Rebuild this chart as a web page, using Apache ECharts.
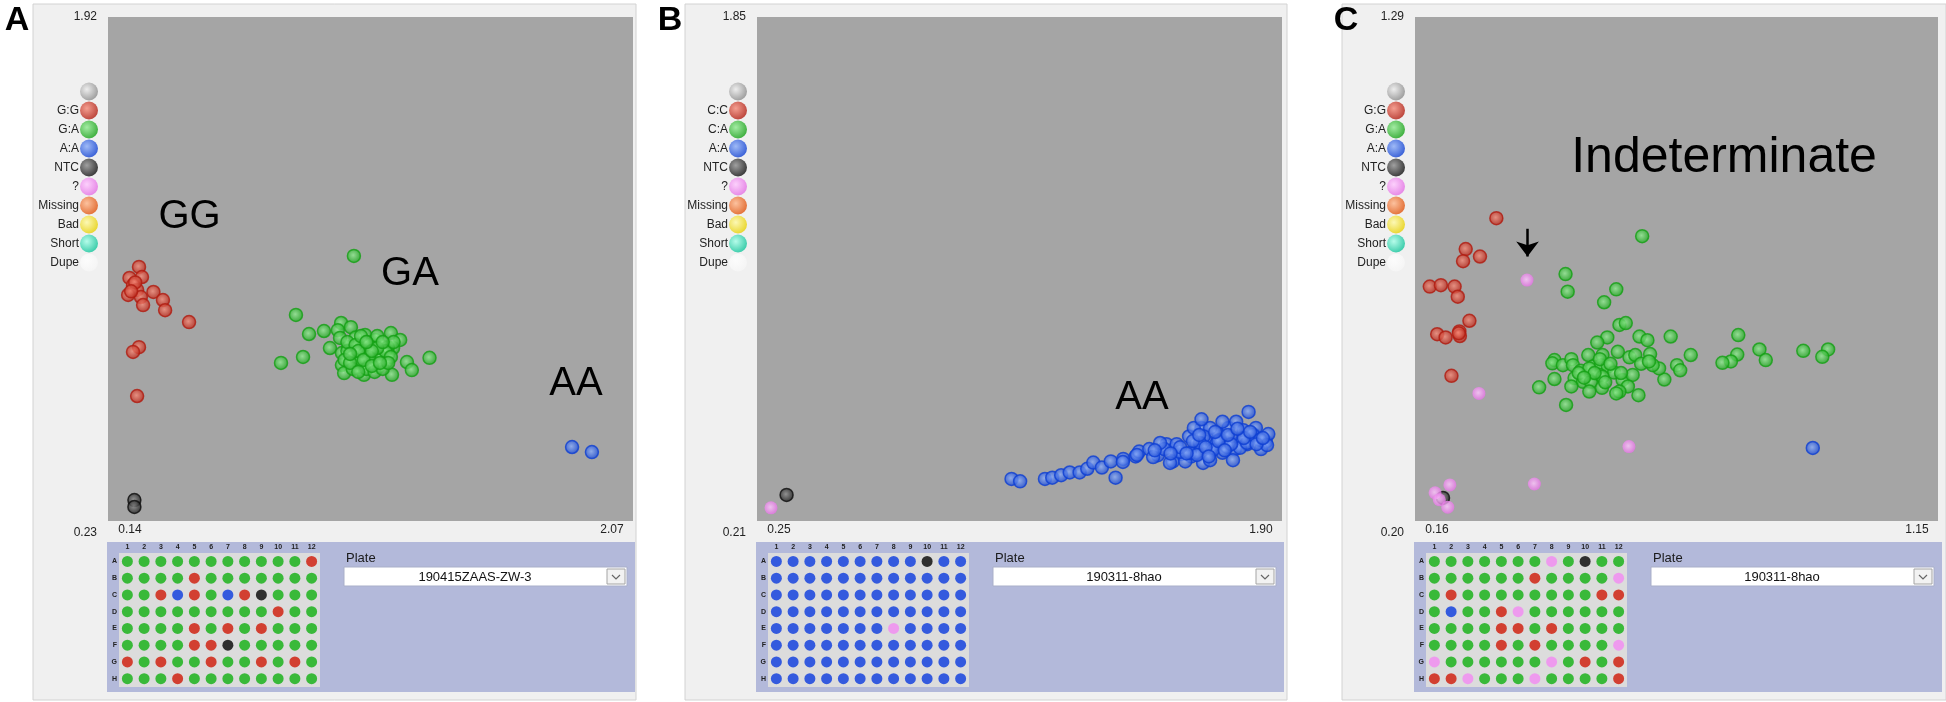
<!DOCTYPE html>
<html>
<head>
<meta charset="utf-8">
<title>Genotyping plots</title>
<script src="https://cdn.jsdelivr.net/npm/echarts@6.0.0/dist/echarts.min.js"></script>
<style>
  html, body { margin: 0; padding: 0; background: #fff; }
  #main { width: 1946px; height: 702px; }
</style>
</head>
<body>
<div id="main"></div>
<script>
// ---- axis ranges (only min / max are labelled) ----
var xRangeA = [0.14, 2.07], yRangeA = [0.23, 1.92];
var xRangeB = [0.25, 1.90], yRangeB = [0.21, 1.85];
var xRangeC = [0.16, 1.15], yRangeC = [0.20, 1.29];

// ---- legend entries ----
var legendA = ['', 'G:G', 'G:A', 'A:A', 'NTC', '?', 'Missing', 'Bad', 'Short', 'Dupe'];
var legendB = ['', 'C:C', 'C:A', 'A:A', 'NTC', '?', 'Missing', 'Bad', 'Short', 'Dupe'];
var legendC = ['', 'G:G', 'G:A', 'A:A', 'NTC', '?', 'Missing', 'Bad', 'Short', 'Dupe'];
var legendBalls = ['gray', 'red', 'green', 'blue', 'black', 'pink', 'orange', 'yellow', 'teal', 'white'];

// ---- panel A points ----
var A_GG = [[0.254,1.082],[0.219,1.045],[0.265,1.048],[0.232,1.021],[0.247,1.005],[0.214,0.988],
  [0.261,0.981],[0.307,0.998],[0.269,0.954],[0.342,0.971],[0.350,0.937],[0.438,0.897],
  [0.254,0.813],[0.232,0.797],[0.247,0.649],[0.240,1.030],[0.225,1.000]];
var A_GA = [[1.044,1.119],[0.831,0.921],[0.879,0.857],[0.934,0.867],[0.997,0.894],[1.033,0.880],
  [0.985,0.870],[0.993,0.844],[1.085,0.854],[1.123,0.837],[1.180,0.860],[1.214,0.837],[1.188,0.810],
  [0.956,0.810],[0.857,0.780],[0.776,0.760],[1.000,0.793],[1.055,0.803],[1.100,0.787],[1.147,0.793],
  [1.162,0.763],[1.133,0.746],[1.085,0.760],[1.041,0.770],[1.000,0.753],[1.008,0.726],[1.081,0.720],
  [1.184,0.720],[1.239,0.763],[1.257,0.736],[1.322,0.777],[1.070,0.827],[1.107,0.813],[1.140,0.820],
  [1.169,0.813],[1.114,0.770],[1.055,0.746],[1.024,0.813],[1.120,0.790],[1.070,0.780],[1.170,0.790],
  [1.050,0.845],[1.090,0.830],[1.020,0.800],[1.040,0.780],[1.060,0.760],[1.080,0.800],[1.100,0.820],
  [1.120,0.760],[1.140,0.780],[1.160,0.800],[1.020,0.830],[1.050,0.820],[1.090,0.740],[1.120,0.730],
  [1.150,0.740],[1.180,0.780],[1.190,0.830],[1.070,0.850],[1.130,0.850],[1.010,0.770],[1.040,0.740],
  [1.100,0.780],[1.130,0.810],[1.170,0.760],[1.060,0.800],[1.080,0.770],[1.110,0.800],[1.150,0.830],
  [1.030,0.760],[1.090,0.830],[1.060,0.730],[1.110,0.750],[1.140,0.760],[1.030,0.790]];
var A_AA = [[1.846,0.478],[1.919,0.461]];
var A_NTC = [[0.237,0.300],[0.237,0.277]];

// ---- panel B points ----
var B_AA = [[1.050,0.347],[1.077,0.339],[1.155,0.347],[1.178,0.351],[1.206,0.359],[1.233,0.368],
  [1.264,0.368],[1.288,0.380],[1.307,0.400],[1.334,0.384],[1.377,0.351],[1.362,0.404],[1.401,0.412],
  [1.440,0.420],[1.451,0.436],[1.483,0.444],[1.510,0.424],[1.537,0.460],[1.561,0.444],[1.584,0.428],
  [1.608,0.485],[1.631,0.460],[1.647,0.513],[1.662,0.468],[1.678,0.444],[1.701,0.493],[1.717,0.468],
  [1.732,0.513],[1.756,0.533],[1.771,0.468],[1.795,0.565],[1.810,0.493],[1.830,0.477],[1.849,0.468],
  [1.857,0.493],[1.615,0.420],[1.557,0.404],[1.713,0.432],[1.752,0.444],[1.791,0.460],[1.818,0.513],
  [1.674,0.513],[1.713,0.533],[1.635,0.432],[1.596,0.404],[1.654,0.485],[1.693,0.460],[1.740,0.485],
  [1.779,0.505],[1.834,0.444],[1.569,0.460],[1.530,0.444],[1.623,0.513],[1.647,0.541],
  [1.517,0.464],[1.444,0.425],[1.495,0.418],[1.400,0.402],[1.548,0.399],[1.579,0.435],[1.611,0.431],
  [1.642,0.464],[1.652,0.399],[1.683,0.441],[1.705,0.474],[1.727,0.451],[1.746,0.408],[1.768,0.448],
  [1.790,0.464],[1.809,0.490],[1.831,0.474],[1.853,0.457],[1.674,0.408],[1.633,0.425],
  [1.580,0.450],[1.620,0.470],[1.660,0.450],[1.700,0.470],[1.740,0.460],[1.780,0.480],[1.820,0.460],
  [1.640,0.490],[1.690,0.500],[1.730,0.490],[1.760,0.510],[1.800,0.500],[1.600,0.430],[1.670,0.420],
  [1.720,0.440],[1.840,0.480],[1.550,0.430],[1.500,0.440]];
var B_NTC = [[0.343,0.295]];
var B_UNK = [[0.294,0.253]];

// ---- panel C points ----
var C_GG = [[0.314,0.855],[0.256,0.788],[0.283,0.772],[0.251,0.762],[0.188,0.707],[0.209,0.710],
  [0.235,0.707],[0.241,0.685],[0.263,0.633],[0.202,0.604],[0.218,0.597],[0.244,0.610],[0.245,0.600],
  [0.229,0.514],[0.243,0.606]];
var C_GA = [[0.590,0.816],[0.445,0.734],[0.449,0.696],[0.541,0.701],[0.518,0.673],[0.547,0.624],
  [0.559,0.628],[0.585,0.599],[0.600,0.591],[0.644,0.599],[0.524,0.597],[0.505,0.586],[0.544,0.566],
  [0.488,0.559],[0.515,0.559],[0.566,0.554],[0.577,0.559],[0.605,0.561],[0.682,0.559],[0.772,0.602],
  [0.770,0.560],[0.758,0.545],[0.742,0.542],[0.812,0.571],[0.824,0.548],[0.895,0.568],[0.942,0.571],
  [0.931,0.555],[0.424,0.548],[0.420,0.541],[0.440,0.537],[0.456,0.550],[0.459,0.537],[0.474,0.525],
  [0.497,0.534],[0.512,0.537],[0.525,0.534],[0.537,0.521],[0.493,0.519],[0.509,0.516],[0.462,0.509],
  [0.478,0.501],[0.493,0.501],[0.515,0.512],[0.553,0.505],[0.572,0.516],[0.563,0.491],[0.547,0.480],
  [0.541,0.476],[0.514,0.488],[0.490,0.480],[0.456,0.491],[0.424,0.507],[0.395,0.489],[0.446,0.451],
  [0.583,0.472],[0.632,0.506],[0.622,0.530],[0.610,0.537],[0.588,0.540],[0.656,0.537],[0.662,0.526],
  [0.603,0.545],[0.490,0.530],[0.500,0.520],[0.470,0.520],[0.510,0.550],[0.530,0.540],[0.480,0.510],
  [0.520,0.500],[0.550,0.520]];
var C_AA = [[0.913,0.358]];
var C_NTC = [[0.213,0.250]];
var C_UNK = [[0.372,0.721],[0.281,0.476],[0.565,0.361],[0.386,0.280],[0.226,0.278],[0.198,0.261],
  [0.222,0.230],[0.206,0.246]];

// ---- text annotations and arrow (data coordinates) ----
var annotA = [['GG', 0.44, 1.25], ['GA', 1.25, 1.06], ['AA', 1.86, 0.69]];
var annotB = [['AA', 1.46, 0.61]];
var annotC = [['Indeterminate', 0.745, 0.985]];
var arrowC = [0.373, 0.832, 0.772];

// ---- 96-well plates: g=G:A/green r=red b=blue k=NTC p=? ----
var plateCols = ['1','2','3','4','5','6','7','8','9','10','11','12'];
var plateRows = ['A','B','C','D','E','F','G','H'];
var plateA = ['gggggggggggr','ggggrggggggg','ggrbrgbrkggg','gggggggggrgg',
              'ggggrgrgrggg','ggggrrkggggg','rgrggrggrgrg','gggrgggggggg'];
var plateB = ['bbbbbbbbbkbb','bbbbbbbbbbbb','bbbbbbbbbbbb','bbbbbbbbbbbb',
              'bbbbbbbpbbbb','bbbbbbbbbbbb','bbbbbbbbbbbb','bbbbbbbbbbbb'];
var plateC = ['gggggggpgkgg','ggggggrggggp','grggggggggrr','gbggrpgggggg',
              'ggggrrgrgggg','ggggrgrggggp','pggggggpgrgr','rrpgggpggggr'];
var plateNames = ['190415ZAAS-ZW-3', '190311-8hao', '190311-8hao'];

// ---- styles ----
var font = 'Liberation Sans, Arial, sans-serif';
var balls = {
  gray:   ['#8a8a8a', '#ececec'],
  red:    ['#b01c10', '#f58a78'],
  green:  ['#14a014', '#8fea8f'],
  blue:   ['#0e3fd2', '#8aacf8'],
  black:  ['#0e0e0e', '#8c8c8c'],
  pink:   ['#e46ee4', '#ffc8ff'],
  orange: ['#e0520c', '#ffb68a'],
  yellow: ['#e8d000', '#fffaa6'],
  teal:   ['#10c49a', '#a6ffe8'],
  white:  ['#f6f6f6', '#ffffff']
};
var wellColors = { g: '#10b010', r: '#d01806', b: '#0a3ade', k: '#040404', p: '#f38af3' };

function ball(k, c, r) {
  return new echarts.graphic.RadialGradient(c, c, r, [
    { offset: 0, color: balls[k][1] },
    { offset: 1, color: balls[k][0] }
  ]);
}
function dotStyle(k) {
  return { color: ball(k, 0.45, 0.6), borderColor: balls[k][0], borderWidth: k === 'pink' ? 0 : 1.5 };
}

var panels = [
  { xr: xRangeA, yr: yRangeA, legend: legendA, plate: plateA, annot: annotA, annotSize: 40,
    series: [['G:G', A_GG, 'red'], ['G:A', A_GA, 'green'], ['A:A', A_AA, 'blue'], ['NTC', A_NTC, 'black']] },
  { xr: xRangeB, yr: yRangeB, legend: legendB, plate: plateB, annot: annotB, annotSize: 40,
    series: [['A:A', B_AA, 'blue'], ['NTC', B_NTC, 'black'], ['?', B_UNK, 'pink']] },
  { xr: xRangeC, yr: yRangeC, legend: legendC, plate: plateC, annot: annotC, annotSize: 50,
    series: [['G:G', C_GG, 'red'], ['G:A', C_GA, 'green'], ['A:A', C_AA, 'blue'], ['NTC', C_NTC, 'black'], ['?', C_UNK, 'pink']] }
];

// pixel layout of each panel
var layout = [
  { L: 108,  W: 525, frame: [33, 603],   letter: ['A', 17] },
  { L: 757,  W: 525, frame: [685, 602],  letter: ['B', 670] },
  { L: 1415, W: 523, frame: [1342, 604], letter: ['C', 1346] }
];

function near(a, b) { return Math.abs(a - b) < 1e-6; }

function valueAxis(gi, range, isX) {
  var rich = isX
    ? { lo: { padding: [0, 0, 0, 44], fontSize: 12, color: '#222', fontFamily: font },
        hi: { padding: [0, 42, 0, 0], fontSize: 12, color: '#222', fontFamily: font } }
    : { lo: { padding: [24, 0, 0, 0], fontSize: 12, color: '#222', fontFamily: font },
        hi: { fontSize: 12, color: '#222', fontFamily: font } };
  return {
    gridIndex: gi, type: 'value', min: range[0], max: range[1],
    axisLine: { show: false }, axisTick: { show: false }, splitLine: { show: false },
    axisLabel: {
      showMinLabel: true, showMaxLabel: true, margin: isX ? 3 : 11,
      fontSize: 12, color: '#222', fontFamily: font, rich: rich,
      formatter: function (v) {
        if (near(v, range[0])) return '{lo|' + range[0].toFixed(2) + '}';
        if (near(v, range[1])) return '{hi|' + range[1].toFixed(2) + '}';
        return '';
      }
    }
  };
}

var grids = [], xAxes = [], yAxes = [], series = [], graphics = [];

panels.forEach(function (p, i) {
  var lay = layout[i], L = lay.L;

  // frame + plate panel backgrounds
  graphics.push({ type: 'rect', z: -20, shape: { x: lay.frame[0], y: 4, width: lay.frame[1], height: 696 },
    style: { fill: '#f0f0f0', stroke: '#d2d2d2', lineWidth: 1 } });
  graphics.push({ type: 'rect', z: -10, shape: { x: L - 1, y: 542, width: 528, height: 150 },
    style: { fill: '#b3b9da' } });
  graphics.push({ type: 'text', z: 10, style: { text: lay.letter[0], x: lay.letter[1], y: 21,
    font: 'bold 34px ' + font, fill: '#000', textAlign: 'center', textVerticalAlign: 'middle',
    align: 'center', verticalAlign: 'middle' } });

  // plate selector
  graphics.push({ type: 'text', z: 10, style: { text: 'Plate', x: L + 238, y: 558, font: '13px ' + font,
    fill: '#1a1a1a', textVerticalAlign: 'middle', verticalAlign: 'middle' } });
  graphics.push({ type: 'rect', z: 5, shape: { x: L + 236, y: 567, width: 283, height: 19 },
    style: { fill: '#ffffff', stroke: '#a9afc9', lineWidth: 1 } });
  graphics.push({ type: 'text', z: 10, style: { text: plateNames[i], x: L + 367, y: 577, font: '13px ' + font,
    fill: '#111', textAlign: 'center', textVerticalAlign: 'middle', align: 'center', verticalAlign: 'middle' } });
  graphics.push({ type: 'rect', z: 6, shape: { x: L + 499, y: 569, width: 18, height: 15 },
    style: { fill: '#f2f2f2', stroke: '#a4a4a4', lineWidth: 1 } });
  graphics.push({ type: 'polyline', z: 7, shape: { points: [[L + 504, 575], [L + 508, 579], [L + 512, 575]] },
    style: { stroke: '#666', lineWidth: 1.2, fill: null } });

  // scatter plot
  var g0 = grids.length;
  grids.push({ left: L, top: 17, width: lay.W, height: 504, show: true, backgroundColor: '#a5a5a5', borderWidth: 0 });
  xAxes.push(valueAxis(g0, p.xr, true));
  yAxes.push(valueAxis(g0, p.yr, false));
  p.series.forEach(function (s, k) {
    var o = { type: 'scatter', name: s[0], xAxisIndex: g0, yAxisIndex: g0, data: s[1],
      symbolSize: 13, itemStyle: dotStyle(s[2]), z: 3 + k, silent: true };
    if (k === 0) {
      o.markPoint = { symbol: 'circle', symbolSize: 1, itemStyle: { color: 'rgba(0,0,0,0)' },
        label: { show: true, position: 'inside', formatter: '{b}', color: '#000',
                 fontSize: p.annotSize, fontFamily: font },
        data: p.annot.map(function (a) { return { name: a[0], coord: [a[1], a[2]] }; }) };
    }
    if (s[0] === '?' && i === 2) {
      o.markLine = { silent: true, symbol: ['none', 'arrow'], symbolSize: [17, 15],
        lineStyle: { color: '#000', width: 2.5, type: 'solid' }, label: { show: false },
        data: [[{ coord: [arrowC[0], arrowC[1]] }, { coord: [arrowC[0], arrowC[2]] }]] };
    }
    series.push(o);
  });

  // legend column
  var g1 = grids.length;
  grids.push({ left: L - 28, top: 82, width: 18, height: 190 });
  xAxes.push({ gridIndex: g1, type: 'value', min: -1, max: 1, show: false });
  yAxes.push({ gridIndex: g1, type: 'category', data: p.legend, inverse: true,
    axisLine: { show: false }, axisTick: { show: false }, splitLine: { show: false },
    axisLabel: { margin: 1, fontSize: 12, color: '#222', fontFamily: font, interval: 0 } });
  series.push({ type: 'scatter', xAxisIndex: g1, yAxisIndex: g1, symbolSize: 18, silent: true,
    data: legendBalls.map(function (k, j) {
      return { value: [0, j], itemStyle: { color: ball(k, 0.38, 0.65), borderWidth: 0 } };
    }) });

  // 96-well plate
  var g2 = grids.length;
  grids.push({ left: L + 11, top: 553, width: 201, height: 134, show: true, backgroundColor: '#dcdcdc', borderWidth: 0 });
  xAxes.push({ gridIndex: g2, type: 'category', data: plateCols, position: 'top',
    axisLine: { show: false }, axisTick: { show: false }, splitLine: { show: false },
    axisLabel: { margin: 2, fontSize: 7, fontWeight: 'bold', color: '#222', fontFamily: font, interval: 0 } });
  yAxes.push({ gridIndex: g2, type: 'category', data: plateRows, inverse: true,
    axisLine: { show: false }, axisTick: { show: false }, splitLine: { show: false },
    axisLabel: { margin: 2, fontSize: 7, fontWeight: 'bold', color: '#222', fontFamily: font, interval: 0 } });
  var wells = [];
  p.plate.forEach(function (row, r) {
    row.split('').forEach(function (code, c) { wells.push([c, r, code]); });
  });
  series.push({ type: 'scatter', xAxisIndex: g2, yAxisIndex: g2, symbolSize: 11, silent: true, data: wells,
    itemStyle: { color: function (d) { return wellColors[d.data[2]]; } } });
});

var chart = echarts.init(document.getElementById('main'));
chart.setOption({
  animation: false,
  backgroundColor: '#ffffff',
  grid: grids,
  xAxis: xAxes,
  yAxis: yAxes,
  series: series,
  graphic: { elements: graphics }
});
</script>
</body>
</html>
